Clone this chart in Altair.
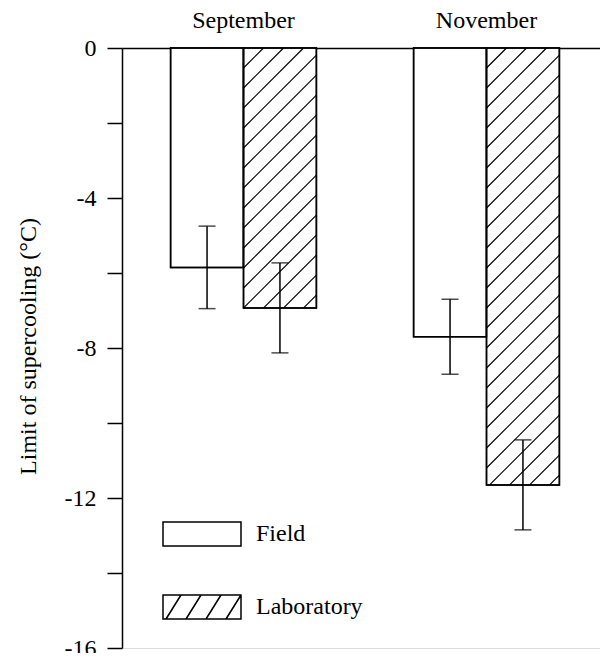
import altair as alt
import pandas as pd

# ---- data ----
months = ["September", "November"]
groups = ["Field", "Laboratory"]
field_mean = [-5.85, -7.7]
field_err = [1.1, 1.0]
lab_mean = [-6.93, -11.65]
lab_err = [1.2, 1.2]
y_ticks = [-16, -14, -12, -10, -8, -6, -4, -2, 0]

# ---- layout / style constants ----
PLOT_W = 478
PLOT_H = 600
X_UNIT = 243.0           # px per month group
X_MAX = PLOT_W / X_UNIT
Y_MIN, Y_MAX = -16, 0
SY = PLOT_H / (Y_MAX - Y_MIN)
BAR_W = 0.3
HATCH_STEP = 20.0
FONT = "Liberation Serif"
FS = 24

rows = []
for i, m in enumerate(months):
    c = i + 0.5
    for g, means, errs, x0 in [("Field", field_mean, field_err, c - BAR_W),
                               ("Laboratory", lab_mean, lab_err, c)]:
        rows.append(dict(month=m, group=g, x0=x0, x1=x0 + BAR_W, xc=x0 + BAR_W / 2,
                         mean=means[i], lo=means[i] - errs[i], hi=means[i] + errs[i], zero=0))
bars = pd.DataFrame(rows)

caps = pd.concat([bars[["xc", "lo"]].rename(columns={"lo": "v"}),
                  bars[["xc", "hi"]].rename(columns={"hi": "v"})])

# hatch lines clipped to the laboratory bars
hatch = []
for r in rows:
    if r["group"] != "Laboratory":
        continue
    W = BAR_W * X_UNIT
    H = -r["mean"] * SY
    c = HATCH_STEP
    while c < W + H:
        u1 = max(0.0, c - H)
        u2 = min(W, c)
        hatch.append(dict(hx1=r["x0"] + u1 / X_UNIT, hy1=-(c - u1) / SY,
                          hx2=r["x0"] + u2 / X_UNIT, hy2=-(c - u2) / SY))
        c += HATCH_STEP
hatch = pd.DataFrame(hatch)

month_df = pd.DataFrame({"month": months, "xc": [i + 0.5 for i in range(len(months))]})

# legend symbols (custom paths, scaled by sqrt(size)/2)
R = 37.0
hw, hh = 39 / R, 12 / R
path_field = f"M{-hw:.3f},{-hh:.3f}H{hw:.3f}V{hh:.3f}H{-hw:.3f}Z"
hl = ""
for b in [-36, -16, 4, 24]:
    hl += f"M{b / R:.3f},{hh:.3f}L{(b + 15) / R:.3f},{-hh:.3f}"
path_lab = path_field + hl

xscale = alt.Scale(domain=[0, X_MAX], nice=False, zero=False)
yscale = alt.Scale(domain=[Y_MIN, Y_MAX], nice=False)
xaxis = alt.Axis(orient="top", labels=False, ticks=False, grid=False, title=None,
                 domainColor="black", domainWidth=1.5)
yaxis = alt.Axis(values=y_ticks, grid=False, title="Limit of supercooling (°C)",
                 labelExpr="datum.value % 4 === 0 ? '' + datum.value : ''",
                 tickSize=15, tickWidth=1.5, tickColor="black",
                 domainColor="black", domainWidth=1.5,
                 labelFont=FONT, labelFontSize=FS, labelColor="black", labelPadding=11,
                 titleFont=FONT, titleFontSize=FS, titleFontWeight="normal", titleColor="black",
                 titleAngle=-90, titleX=-94, titleY=298, titleAlign="center", titleBaseline="middle")

X = lambda f: alt.X(f, type="quantitative", scale=xscale, axis=xaxis, title=None)
Y = lambda f: alt.Y(f, type="quantitative", scale=yscale, axis=yaxis)

bar_layer = alt.Chart(bars).mark_bar(fill="white", stroke="black", strokeWidth=1.5).encode(
    x=X("x0"), x2="x1", y=Y("mean"), y2="zero")

hatch_layer = alt.Chart(hatch).mark_rule(color="black", strokeWidth=1.2).encode(
    x=X("hx1"), x2="hx2", y=Y("hy1"), y2="hy2")

outline_layer = alt.Chart(bars).mark_bar(fill=None, fillOpacity=0, stroke="black", strokeWidth=1.5).encode(
    x=X("x0"), x2="x1", y=Y("mean"), y2="zero")

err_layer = alt.Chart(bars).mark_rule(color="black", strokeWidth=1.5).encode(
    x=X("xc"), y=Y("lo"), y2="hi")

cap_layer = alt.Chart(caps).mark_tick(orient="horizontal", size=17, thickness=1.5, color="black").encode(
    x=X("xc"), y=Y("v"))

month_layer = alt.Chart(month_df).mark_text(font=FONT, fontSize=FS, color="black",
                                            baseline="alphabetic", align="center").encode(
    x=X("xc"), y=alt.value(-20), text="month:N")

# helper layer that only drives the legend (its points are clipped away outside the plot)
legend_layer = alt.Chart(bars).mark_point(filled=False, clip=True, size=R * R * 4,
                                          color="black", strokeWidth=1.5,
                                          opacity=1).encode(
    x=X("xc"), y=alt.value(-400),
    shape=alt.Shape("group:N", scale=alt.Scale(domain=groups, range=[path_field, path_lab]),
                    legend=alt.Legend(title=None, orient="none", legendX=42, legendY=448,
                                      direction="vertical", symbolSize=R * R * 4,
                                      symbolStrokeColor="black",
                                      symbolStrokeWidth=1.5, symbolOpacity=1,
                                      labelFont=FONT, labelFontSize=FS, labelColor="black",
                                      labelOffset=16, rowPadding=20, padding=0)))

chart = alt.layer(bar_layer, hatch_layer, outline_layer, err_layer, cap_layer,
                  month_layer, legend_layer).properties(
    width=PLOT_W, height=PLOT_H,
    autosize=alt.AutoSizeParams(type="none"),
    padding={"left": 114, "top": 40, "right": 0, "bottom": 5},
).configure_view(stroke=None).configure(background="white")

chart.save("out.html", embed_options={"renderer": "svg", "actions": False})
